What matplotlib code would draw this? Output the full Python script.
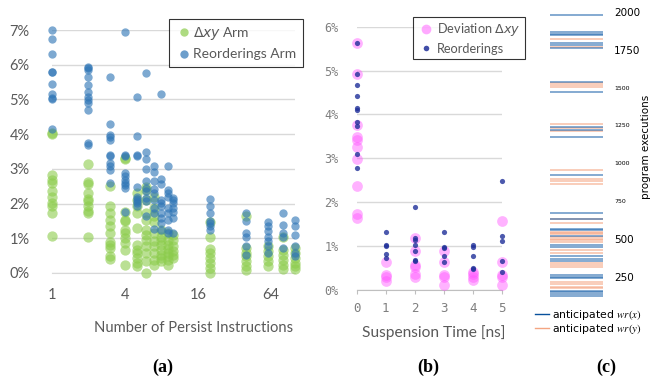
import numpy as np
import matplotlib
matplotlib.use('Agg')
import matplotlib.pyplot as plt
from matplotlib.font_manager import FontProperties
from matplotlib.lines import Line2D
from matplotlib.ticker import NullLocator

# (a) persist instructions vs. deviation / reorderings (percent)
persist_counts = [1, 2, 3, 4, 5, 6, 7, 8, 9, 10, 20, 40, 60, 80, 100]
delta_arm = [
    [4.03, 4.0, 2.81, 2.68, 2.6, 2.35, 2.2, 2.01, 1.92, 1.74, 1.08],
    [3.14, 2.61, 2.56, 2.3, 2.14, 2.06, 1.92, 1.8, 1.73, 1.05],
    [2.51, 1.92, 1.73, 1.53, 1.34, 1.15, 0.88, 0.81, 0.72, 0.48, 0.4],
    [3.31, 3.28, 1.77, 1.53, 1.49, 1.25, 1.15, 1.0, 0.86, 0.67, 0.24],
    [2.3, 2.11, 1.92, 1.73, 1.29, 0.81, 0.67, 0.58, 0.43, 0.29, 0.19],
    [2.49, 2.4, 2.11, 1.73, 1.53, 1.25, 1.1, 0.96, 0.77, 0.58, 0.34, 0.0],
    [2.2, 1.87, 1.63, 1.46, 1.15, 0.91, 0.77, 0.58, 0.38, 0.24],
    [1.25, 1.05, 0.96, 0.81, 0.67, 0.53, 0.43, 0.34],
    [1.15, 0.96, 0.81, 0.69, 0.58, 0.48, 0.38, 0.24],
    [1.1, 0.96, 0.77, 0.62, 0.53, 0.43],
    [1.46, 1.04, 0.69, 0.58, 0.43, 0.29, 0.14, 0.0],
    [1.65, 0.72, 0.58, 0.48, 0.34, 0.19, 0.1],
    [0.77, 0.62, 0.48, 0.34, 0.19],
    [1.05, 0.67, 0.53, 0.38, 0.24, 0.12],
    [0.72, 0.58, 0.43, 0.29, 0.19, 0.12],
]
reorder_arm = [
    [7.0, 6.73, 6.3, 5.8, 5.8, 5.44, 5.15, 5.05, 5.02, 4.14],
    [5.94, 5.9, 5.85, 5.64, 5.42, 5.2, 5.08, 4.99, 4.91, 4.7, 3.74, 3.69],
    [5.64, 4.3, 3.98, 3.93, 3.84, 3.4, 3.38, 3.16, 3.07, 2.97, 2.59],
    [6.95, 3.4, 3.36, 2.88, 2.78, 2.68, 2.6, 2.54, 2.44, 1.77],
    [5.08, 3.95, 3.4, 3.36, 2.49, 2.2, 2.13, 2.06, 2.01, 1.94],
    [5.75, 3.5, 3.28, 2.99, 2.64, 2.44, 2.35, 2.16, 2.06, 1.65],
    [3.07, 2.9, 2.64, 2.42, 2.3, 2.11, 1.87, 1.73, 1.27],
    [5.15, 2.7, 2.57, 2.11, 2.01, 1.92, 1.73, 1.58, 1.44, 1.25],
    [3.09, 2.4, 2.3, 2.2, 1.87, 1.73, 1.53, 1.25, 1.15],
    [2.16, 2.11, 2.01, 1.87, 1.77, 1.58, 1.15],
    [2.14, 1.94, 1.74, 1.49, 1.44, 1.34, 1.25],
    [1.74, 1.49, 1.15, 1.04, 0.77, 0.53],
    [1.46, 1.34, 1.2, 1.05, 0.91, 0.77, 0.58],
    [1.74, 1.39, 1.15, 1.05, 0.72],
    [1.53, 1.34, 1.1, 0.77, 0.58, 0.5],
]

# (b) suspension time vs. deviation / reorderings (percent)
suspension_ns = [0, 1, 2, 3, 4, 5]
deviation_b = [
    [5.62, 4.92, 3.77, 3.49, 3.42, 3.27, 2.98, 2.38, 1.73, 1.63],
    [0.63, 0.34, 0.29, 0.21],
    [1.19, 0.9, 0.57, 0.52, 0.36, 0.29],
    [0.9, 0.63, 0.34, 0.29, 0.11],
    [0.42, 0.36, 0.3, 0.23],
    [1.58, 0.63, 0.34, 0.29, 0.11],
]
reorder_b = [
    [5.63, 4.93, 4.68, 4.43, 4.14, 4.1, 3.83, 3.74, 3.09, 2.79],
    [1.33, 1.03, 1.01, 0.82, 0.72],
    [1.88, 1.19, 1.15, 1.03, 0.9, 0.68, 0.67],
    [1.33, 0.99, 0.95, 0.78, 0.63],
    [1.03, 0.99, 0.78, 0.49, 0.48],
    [2.48, 1.23, 1.12, 0.67, 0.42],
]

# (c) program executions with anticipated writes
wr_x_runs = [1981, 1868, 1857, 1848, 1793, 1782, 1760, 1540, 1470, 1242, 1220,
             1176, 922, 669, 630, 565, 559, 520, 460, 448, 389, 367, 356, 261,
             250, 239, 155, 147, 136, 122]
wr_y_runs = [1820, 1771, 1529, 1518, 1503, 1258, 1231, 1212, 956, 894, 885,
             863, 630, 607, 548, 540, 530, 510, 500, 490, 481, 427, 405, 339,
             330, 316, 217, 202, 184, 173]
exec_ticks = [250, 500, 750, 1000, 1250, 1500, 1750, 2000]

W, H = 657, 381
fig = plt.figure(figsize=(W / 100, H / 100), dpi=100)
sans = 'Lato'
gray_txt = '#595959'

# ---------- (a)
axA = fig.add_axes([52 / W, 108 / H, 242.5 / W, 243 / H])
for x, ys in zip(persist_counts, delta_arm):
    axA.scatter([x] * len(ys), ys, s=55, color='#8ccc4c', alpha=0.6,
                linewidths=0, clip_on=False, zorder=3)
for x, ys in zip(persist_counts, reorder_arm):
    axA.scatter([x] * len(ys), ys, s=36, color='#2e75b6', alpha=0.62,
                linewidths=0, clip_on=False, zorder=4)
axA.set_xscale('log', base=2)
axA.set_xlim(1, 100)
axA.set_ylim(0, 7)
axA.set_xticks([1, 4, 16, 64])
axA.set_xticklabels(['1', '4', '16', '64'], family=sans, fontsize=10.5, color=gray_txt)
axA.xaxis.set_minor_locator(NullLocator())
axA.set_yticks(range(8))
axA.set_yticklabels([f'{v}%' for v in range(8)], family=sans, fontsize=10.5, color=gray_txt)
axA.tick_params(length=0, pad=11, axis='x')
axA.tick_params(length=0, pad=16, axis='y')
axA.yaxis.grid(True, color='#d9d9d9', lw=1)
axA.set_axisbelow(True)
for s in ['top', 'right', 'left']:
    axA.spines[s].set_visible(False)
axA.spines['bottom'].set_color('#d9d9d9')
axA.set_xlabel('Number of Persist Instructions', family=sans, fontsize=10.6, color=gray_txt)
axA.xaxis.set_label_coords(0.585, -0.198)

hA = [Line2D([], [], ls='', marker='o', ms=6, color='#8ccc4c', alpha=0.7, mew=0),
      Line2D([], [], ls='', marker='o', ms=6, color='#2e75b6', alpha=0.7, mew=0)]
legA = fig.legend(hA, [r'$\Delta xy$ Arm', 'Reorderings Arm'],
                  loc='upper left', bbox_to_anchor=(169 / W, 1 - 19 / H),
                  prop=FontProperties(family=sans, size=10),
                  frameon=True, fancybox=False, edgecolor='black',
                  handletextpad=0.1, borderpad=0.45, labelspacing=0.45,
                  handlelength=1.2, borderaxespad=0)
legA.get_frame().set_linewidth(0.8)
for t in legA.get_texts():
    t.set_color(gray_txt)

# ---------- (b)
axB = fig.add_axes([356.7 / W, 91 / H, 145 / W, 263.3 / H])
for x, ys in zip(suspension_ns, deviation_b):
    axB.scatter([x] * len(ys), ys, s=60, color='#ff55ff', alpha=0.45,
                linewidths=0, clip_on=False, zorder=3)
for x, ys in zip(suspension_ns, reorder_b):
    axB.scatter([x] * len(ys), ys, s=14, color='#1f2f99', alpha=0.8,
                linewidths=0, clip_on=False, zorder=4)
axB.set_xlim(0, 5)
axB.set_ylim(0, 6)
axB.set_xticks(suspension_ns)
axB.set_xticklabels([str(v) for v in suspension_ns], family='DejaVu Sans Mono',
                    fontsize=9, color='#7f7f7f')
axB.set_yticks(range(7))
axB.set_yticklabels([f'{v}%' for v in range(7)], family='DejaVu Sans Mono',
                    fontsize=8.5, color='#7f7f7f')
axB.tick_params(axis='y', length=0, pad=13)
axB.tick_params(axis='x', length=3, color='#bfbfbf', pad=6)
axB.yaxis.grid(True, color='#d9d9d9', lw=1)
axB.set_axisbelow(True)
for s in ['top', 'right', 'left']:
    axB.spines[s].set_visible(False)
axB.spines['bottom'].set_color('#bfbfbf')
axB.set_xlabel('Suspension Time [ns]', family=sans, fontsize=11.2, color=gray_txt)
axB.xaxis.set_label_coords(0.53, -0.135)

hB = [Line2D([], [], ls='', marker='o', ms=7, color='#ff55ff', alpha=0.5, mew=0),
      Line2D([], [], ls='', marker='o', ms=4, color='#1f2f99', alpha=0.85, mew=0)]
legB = fig.legend(hB, [r'Deviation $\Delta xy$', 'Reorderings'],
                  loc='upper left', bbox_to_anchor=(413 / W, 1 - 17 / H),
                  prop=FontProperties(family=sans, size=9.2),
                  frameon=True, fancybox=False, edgecolor='black',
                  handletextpad=0.2, borderpad=0.35, labelspacing=0.35,
                  handlelength=1.3, borderaxespad=0)
legB.get_frame().set_linewidth(0.8)
for t in legB.get_texts():
    t.set_color(gray_txt)

# ---------- (c)
axC = fig.add_axes([550 / W, 66.5 / H, 53 / W, 310 / H])
axC.hlines(wr_y_runs, 0, 1, color='#f4a582', lw=1.1, alpha=0.7)
axC.hlines(wr_x_runs, 0, 1, color='#2166ac', lw=1.1, alpha=0.7)
axC.set_xlim(0, 1)
axC.set_ylim(0, 2050)
axC.set_xticks([])
axC.yaxis.tick_right()
axC.set_yticks(exec_ticks)
axC.set_yticklabels([str(v) for v in exec_ticks])
for v, lab in zip(exec_ticks, axC.get_yticklabels()):
    lab.set_fontsize(4.5 if 750 <= v <= 1500 else 7.5)
axC.tick_params(axis='y', length=0, pad=8)
for s in axC.spines.values():
    s.set_visible(False)
axC.yaxis.set_label_position('right')
axC.set_ylabel('program executions', fontsize=7.5)
axC.yaxis.set_label_coords(1.72, 0.54)

hC = [Line2D([], [], color='#08519c', lw=1),
      Line2D([], [], color='#f4a582', lw=1)]
legC = fig.legend(hC, [r'anticipated $\mathit{wr}(x)$', r'anticipated $\mathit{wr}(y)$'],
                  loc='upper left', bbox_to_anchor=(535 / W, 1 - 308 / H),
                  prop=FontProperties(family='DejaVu Sans', size=7.8, math_fontfamily='stix'),
                  frameon=False, handlelength=1.3, handletextpad=0.3,
                  labelspacing=0.0, borderpad=0.0, borderaxespad=0)

# panel captions
for x, lab in [(163, '(a)'), (428, '(b)'), (606, '(c)')]:
    fig.text(x / W, 1 - 367 / H, lab, family='Liberation Serif', weight='bold',
             fontsize=13, ha='center', va='center')

fig.savefig('out.png', dpi=100)
